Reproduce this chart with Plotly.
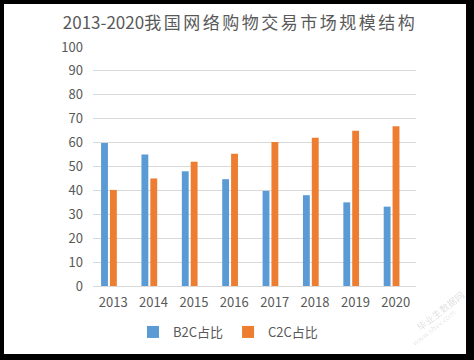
import plotly.graph_objects as go

years = ["2013", "2014", "2015", "2016", "2017", "2018", "2019", "2020"]
b2c = [59.8, 55.0, 48.0, 44.7, 39.8, 38.0, 35.0, 33.2]
c2c = [40.2, 45.0, 52.0, 55.3, 60.2, 62.0, 65.0, 66.8]
series_names = ["B2C占比", "C2C占比"]
title_num = "2013-2020"
title_cjk = "我国网络购物交易市场规模结构"

W, H = 474, 360
L, R, T, B = 93, 416, 47, 286  # plot area in px
pw, ph = R - L, B - T

font_family = "Noto Sans CJK SC, Noto Sans, sans-serif"
gray = "#595959"

fig = go.Figure()
fig.add_trace(go.Bar(x=years, y=b2c, name=series_names[0], marker_color="#5B9BD5",
                     width=0.17, offset=-0.30, marker_line_width=0))
fig.add_trace(go.Bar(x=years, y=c2c, name=series_names[1], marker_color="#ED7D31",
                     width=0.17, offset=-0.08, marker_line_width=0))

# white card with black frame around it
fig.add_shape(type="rect", xref="paper", yref="paper", layer="below",
              x0=(4 - L) / pw, x1=(466 - L) / pw,
              y0=(B - 354) / ph, y1=(B - 4) / ph,
              fillcolor="white", line_width=0)

fig.add_annotation(text="毕业生数据网", xref="paper", yref="paper",
                   x=(440 - L) / pw, y=(B - 311) / ph, xanchor="center", yanchor="middle",
                   showarrow=False, textangle=-38,
                   font=dict(family=font_family, size=9.5, color="rgba(0,0,0,0.15)"))
fig.add_annotation(text="www.sbvv.com", xref="paper", yref="paper",
                   x=(433 - L) / pw, y=(B - 327) / ph, xanchor="center", yanchor="middle",
                   showarrow=False, textangle=-38,
                   font=dict(family=font_family, size=7.5, color="rgba(0,0,0,0.13)"))

fig.update_layout(
    width=W, height=H,
    margin=dict(l=L, r=W - R, t=T, b=H - B, pad=0, autoexpand=False),
    paper_bgcolor="black",
    plot_bgcolor="white",
    barmode="overlay",
    title=dict(text=title_num + '<span style="letter-spacing:2.5px">' + title_cjk + '</span>',
               x=240 / W, xanchor="center", xref="container",
               y=1 - 23 / H, yanchor="middle", yref="container",
               font=dict(family=font_family, size=17, color=gray)),
    legend=dict(orientation="h", xref="container", yref="container",
                x=228 / W, xanchor="center", y=1 - 332 / H, yanchor="middle",
                font=dict(family=font_family, size=13, color=gray),
                itemwidth=30, tracegroupgap=0, bgcolor="rgba(0,0,0,0)"),
    font=dict(family=font_family, color=gray),
)
fig.update_xaxes(showgrid=False, showline=True, linecolor="#d9d9d9", linewidth=1,
                 automargin=False,
                 tickfont=dict(size=13, color=gray), ticks="", ticklabelstandoff=4)
fig.update_yaxes(range=[0, 100], dtick=10, showgrid=True, gridcolor="#d9d9d9", gridwidth=1,
                 automargin=False,
                 zeroline=False, showline=False, tickfont=dict(size=13, color=gray),
                 ticks="", ticklabelstandoff=9)

fig.write_html("out.html", config={"displayModeBar": False},
               post_script="document.body.style.margin='0';document.body.style.overflow='hidden';")
